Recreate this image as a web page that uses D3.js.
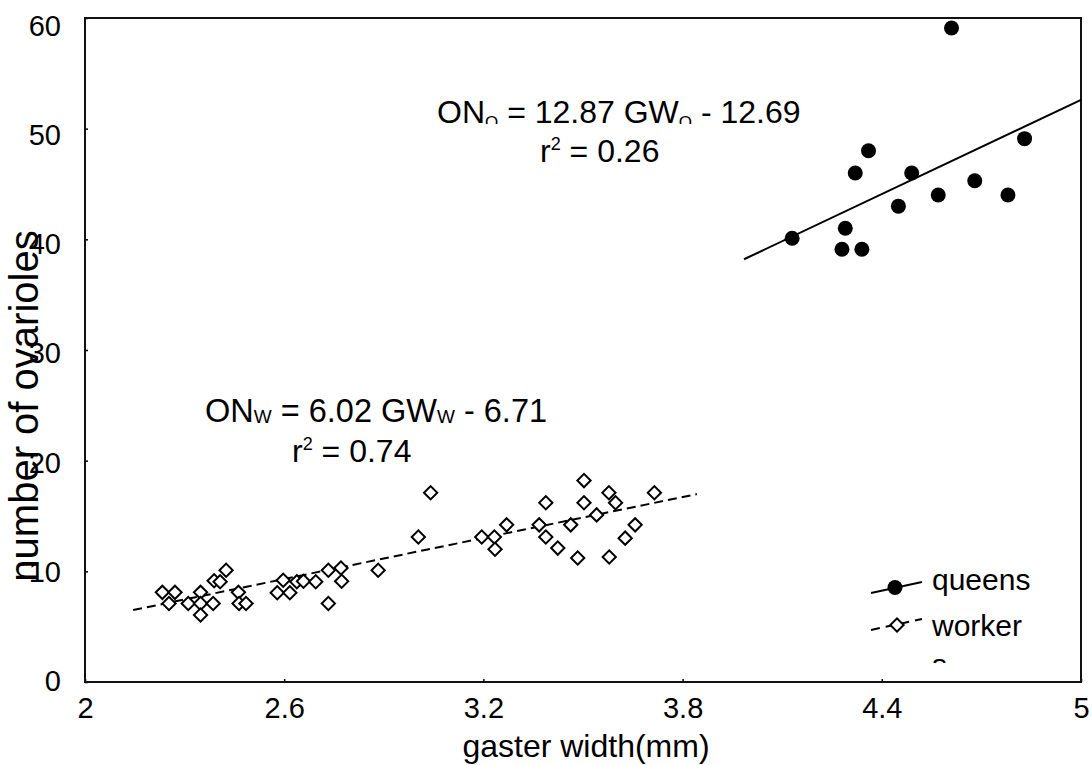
<!DOCTYPE html>
<html><head><meta charset="utf-8">
<script src="https://cdn.jsdelivr.net/npm/d3@7"></script>
<style>
body{margin:0;background:#fff}
svg{display:block}
text{font-family:"Liberation Sans",Arial,sans-serif;fill:#000}
</style>
</head><body>
<svg id="c" width="1092" height="765"></svg>
<script>
// ---- data ----
const queenGW = [4.13, 4.29, 4.28, 4.34, 4.32, 4.36, 4.45, 4.49, 4.57, 4.68, 4.78, 4.83, 4.61];
const queenON = [40.1, 41.0, 39.1, 39.1, 46.0, 48.0, 43.0, 46.0, 44.0, 45.3, 44.0, 49.1, 59.1];

const workerGW = [2.233, 2.271, 2.253, 2.311, 2.348, 2.348, 2.348, 2.386, 2.389, 2.407, 2.425, 2.462, 2.464, 2.485,
  2.579, 2.597, 2.617, 2.638, 2.658, 2.695, 2.733, 2.733, 2.771, 2.773, 2.883,
  3.041, 3.004, 3.195, 3.233, 3.235, 3.270, 3.388, 3.368, 3.388, 3.424, 3.463, 3.484, 3.503, 3.503, 3.541,
  3.578, 3.598, 3.579, 3.627, 3.657, 3.715];
const workerON = [8.1, 8.1, 7.1, 7.1, 8.1, 7.1, 6.05, 7.1, 9.15, 9.06, 10.1, 8.1, 7.1, 7.1,
  8.07, 9.2, 8.07, 9.06, 9.1, 9.06, 10.1, 7.1, 10.3, 9.1, 10.1,
  17.1, 13.1, 13.1, 13.1, 12.0, 14.2, 16.2, 14.2, 13.1, 12.1, 14.2, 11.2, 18.2, 16.2, 15.1,
  17.1, 16.2, 11.3, 13.0, 14.2, 17.1];

const queenFitGW = [3.985, 5.0];
const queenFitON = [38.2, 52.6];
const workerFitGW = [2.145, 3.843];
const workerFitON = [6.5, 16.98];

const xTicks = [2, 2.6, 3.2, 3.8, 4.4, 5];
const xTickLabels = ["2", "2.6", "3.2", "3.8", "4.4", "5"];
const yTicks = [0, 10, 20, 30, 40, 50, 60];
const yTickLabels = ["0", "10", "20", "30", "40", "50", "60"];

const legendLabels = ["queens", "worker", "s"];

// ---- drawing ----
const svg = d3.select("#c");
const L = 85, R = 1081, T = 18, B = 682;
const x = d3.scaleLinear().domain([2, 5]).range([L, R]);
const y = d3.scaleLinear().domain([0, 60]).range([B, T]);

const defs = svg.append("defs");
defs.append("clipPath").attr("id", "qclip").append("rect")
  .attr("x", 380).attr("y", 60).attr("width", 500).attr("height", 64);
defs.append("clipPath").attr("id", "lclip").append("rect")
  .attr("x", 860).attr("y", 540).attr("width", 230).attr("height", 123);

// axes
const xAxis = d3.axisBottom(x).tickValues(xTicks).tickFormat((d, i) => xTickLabels[i])
  .tickSizeInner(-3).tickSizeOuter(0).tickPadding(15);
const gx = svg.append("g").attr("transform", `translate(0,${B})`).call(xAxis);
gx.selectAll("text").style("font-size", "29px");

const yAxis = d3.axisLeft(y).tickValues(yTicks).tickFormat((d, i) => yTickLabels[i])
  .tickSizeInner(-3).tickSizeOuter(0).tickPadding(24);
const gy = svg.append("g").attr("transform", `translate(${L},0)`).call(yAxis);
gy.selectAll("text").style("font-size", "29px").attr("dy", "0.36em")
  .attr("y", d => -2 + 0.15 * d);

svg.selectAll(".domain").remove();
svg.selectAll(".tick line").attr("stroke", "#000").attr("stroke-width", 1.5);

// frame
svg.append("rect").attr("x", x(2)).attr("y", y(60))
  .attr("width", x(5) - x(2)).attr("height", y(0) - y(60))
  .attr("fill", "none").attr("stroke", "#111").attr("stroke-width", 2);

// axis titles
svg.append("text").attr("x", 586).attr("y", 757).attr("text-anchor", "middle")
  .style("font-size", "32px").text("gaster width(mm)");
svg.append("text").attr("transform", "translate(38,406) rotate(-90)").attr("text-anchor", "middle")
  .style("font-size", "40px").text("number of ovarioles");

// regression lines
const line = d3.line().x(d => x(d[0])).y(d => y(d[1]));
svg.append("path").datum(queenFitGW.map((g, i) => [g, queenFitON[i]]))
  .attr("d", line).attr("fill", "none").attr("stroke", "#000").attr("stroke-width", 2);
svg.append("path").datum(workerFitGW.map((g, i) => [g, workerFitON[i]]))
  .attr("d", line).attr("fill", "none").attr("stroke", "#000").attr("stroke-width", 2)
  .attr("stroke-dasharray", "9,5");

// points
const diamond = d3.symbol().type(d3.symbolSquare).size(88);
svg.append("g").selectAll("path").data(workerGW.map((g, i) => [g, workerON[i]])).join("path")
  .attr("d", diamond)
  .attr("transform", d => `translate(${x(d[0])},${y(d[1])}) rotate(45)`)
  .attr("fill", "#fff").attr("stroke", "#000").attr("stroke-width", 2);

svg.append("g").selectAll("circle").data(queenGW.map((g, i) => [g, queenON[i]])).join("circle")
  .attr("cx", d => x(d[0])).attr("cy", d => y(d[1])).attr("r", 7.5).attr("fill", "#000");

// equations
const qEq = svg.append("g").attr("clip-path", "url(#qclip)")
  .append("text").attr("x", 437).attr("y", 123).style("font-size", "32px");
qEq.append("tspan").text("ON");
qEq.append("tspan").attr("dy", 5).style("font-size", "17px").text("Q");
qEq.append("tspan").attr("dy", -5).text(" = 12.87 GW");
qEq.append("tspan").attr("dy", 5).style("font-size", "17px").text("Q");
qEq.append("tspan").attr("dy", -5).text(" - 12.69");

const qR = svg.append("text").attr("x", 540).attr("y", 162).style("font-size", "32px");
qR.append("tspan").text("r");
qR.append("tspan").attr("dy", -12).style("font-size", "18px").text("2");
qR.append("tspan").attr("dy", 12).text(" = 0.26");

const wEq = svg.append("text").attr("x", 205).attr("y", 422).style("font-size", "32.5px");
wEq.append("tspan").text("ON");
wEq.append("tspan").attr("dy", 1).style("font-size", "19px").text("W");
wEq.append("tspan").attr("dy", -1).text(" = 6.02 GW");
wEq.append("tspan").attr("dy", 1).style("font-size", "19px").text("W");
wEq.append("tspan").attr("dy", -1).text(" - 6.71");

const wR = svg.append("text").attr("x", 292).attr("y", 462).style("font-size", "32px");
wR.append("tspan").text("r");
wR.append("tspan").attr("dy", -12).style("font-size", "18px").text("2");
wR.append("tspan").attr("dy", 12).text(" = 0.74");

// legend
const lg = svg.append("g").attr("clip-path", "url(#lclip)");
lg.append("line").attr("x1", 871).attr("y1", 593).attr("x2", 922).attr("y2", 582)
  .attr("stroke", "#000").attr("stroke-width", 2);
lg.append("circle").attr("cx", 895).attr("cy", 587.5).attr("r", 7.5).attr("fill", "#000");
lg.append("line").attr("x1", 871).attr("y1", 630).attr("x2", 922).attr("y2", 619)
  .attr("stroke", "#000").attr("stroke-width", 2).attr("stroke-dasharray", "9,6");
lg.append("path").attr("d", diamond).attr("transform", "translate(897,625) rotate(45)")
  .attr("fill", "#fff").attr("stroke", "#000").attr("stroke-width", 2);
lg.selectAll("text.lab").data(legendLabels).join("text").attr("class", "lab")
  .attr("x", 932).attr("y", (d, i) => [590, 636, 675][i])
  .style("font-size", "30px").text(d => d);
</script>
</body></html>
